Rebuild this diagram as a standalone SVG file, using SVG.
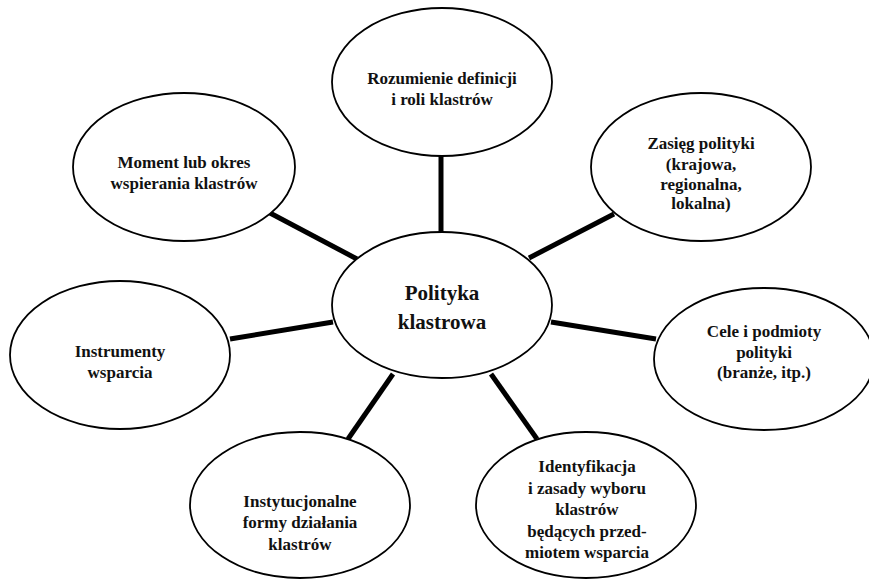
<svg xmlns="http://www.w3.org/2000/svg" width="869" height="579" viewBox="0 0 869 579">
<style>
.node ellipse{fill:#fff;stroke:#000;stroke-width:1.8}
.node text{font-weight:bold;font-size:17px;fill:#111;text-anchor:middle}
#center text{font-size:21px}
#connectors line{stroke:#000;stroke-width:5}
</style>
<rect width="869" height="579" fill="#fff"/>
<g id="connectors">
<line x1="441" y1="156" x2="441" y2="234"/>
<line x1="270" y1="213" x2="357" y2="259"/>
<line x1="614" y1="214" x2="529" y2="258"/>
<line x1="230" y1="339" x2="333" y2="322"/>
<line x1="551" y1="322" x2="656" y2="339"/>
<line x1="348" y1="439" x2="393" y2="374"/>
<line x1="491" y1="374" x2="537" y2="439"/>
</g>
<g font-family="Liberation Serif, serif">
<g id="center" class="node"><ellipse cx="442" cy="305" rx="110" ry="73"/><text x="442" y="300">Polityka</text><text x="442" y="329">klastrowa</text></g>
<g id="top" class="node"><ellipse cx="442" cy="82" rx="110" ry="74"/><text x="442" y="84">Rozumienie definicji</text><text x="442" y="105">i roli klastrów</text></g>
<g id="topleft" class="node"><ellipse cx="184" cy="167" rx="111" ry="74"/><text x="184" y="168">Moment lub okres</text><text x="184" y="189">wspierania klastrów</text></g>
<g id="topright" class="node"><ellipse cx="701" cy="167" rx="110" ry="74"/><text x="701" y="149">Zasięg polityki</text><text x="701" y="170">(krajowa,</text><text x="701" y="190">regionalna,</text><text x="701" y="209">lokalna)</text></g>
<g id="left" class="node"><ellipse cx="120" cy="355" rx="110" ry="74"/><text x="120" y="357">Instrumenty</text><text x="120" y="378">wsparcia</text></g>
<g id="right" class="node"><ellipse cx="764" cy="359" rx="110" ry="71"/><text x="764" y="337">Cele i podmioty</text><text x="764" y="358">polityki</text><text x="764" y="378">(branże, itp.)</text></g>
<g id="bottomleft" class="node"><ellipse cx="300" cy="505" rx="110" ry="73"/><text x="300" y="507">Instytucjonalne</text><text x="300" y="528">formy działania</text><text x="300" y="550">klastrów</text></g>
<g id="bottomright" class="node"><ellipse cx="586" cy="505" rx="110" ry="73"/><text x="587" y="472">Identyfikacja</text><text x="587" y="494">i zasady wyboru</text><text x="587" y="515">klastrów</text><text x="587" y="537">będących przed-</text><text x="587" y="558">miotem wsparcia</text></g>
</g>
</svg>
